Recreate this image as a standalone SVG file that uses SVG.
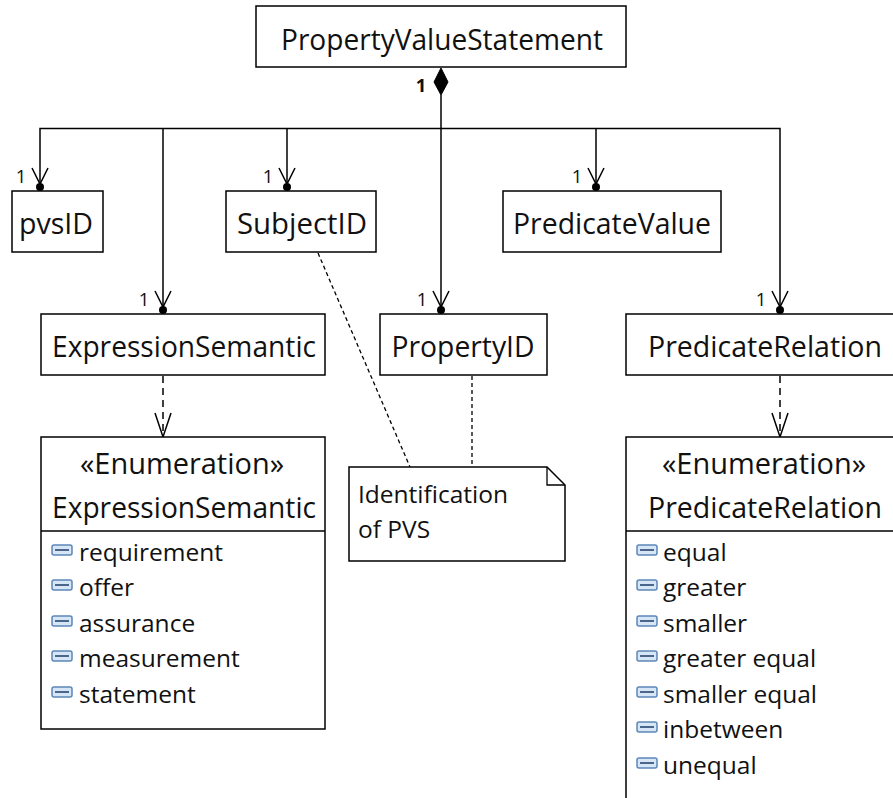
<svg xmlns="http://www.w3.org/2000/svg" width="893" height="798" viewBox="0 0 893 798">
  <style>
    .box { fill: #ffffff; stroke: #000000; stroke-width: 1.5; }
    .name { font-family: "Open Sans", "Noto Sans", sans-serif; font-size: 29px; fill: #111111; text-anchor: middle; }
    .lbl { font-family: "Open Sans", "Noto Sans", sans-serif; font-size: 24.5px; fill: #111111; }
    .mult { font-family: "Open Sans", "Noto Sans", sans-serif; font-size: 18.5px; fill: #111111; text-anchor: middle; }
    .wire { fill: none; stroke: #000000; stroke-width: 1.5; }
    .dep { fill: none; stroke: #000000; stroke-width: 1.5; stroke-dasharray: 7 5; }
    .anchor { fill: none; stroke: #000000; stroke-width: 1.3; stroke-dasharray: 4 3; }
  </style>
  <defs>
    <!-- open arrowhead with a dot at the tip (navigable association end) -->
    <g id="navEnd">
      <path d="M -8 -19 L 0 -3 L 8 -19" fill="none" stroke="#000" stroke-width="1.5"/>
      <circle cx="0" cy="0" r="4" fill="#000"/>
    </g>
    <!-- open arrowhead for dependency -->
    <g id="openHead">
      <path d="M -8 -24 L 0 0 L 8 -24" fill="none" stroke="#000" stroke-width="1.5"/>
    </g>
    <!-- enumeration literal icon -->
    <g id="literal">
      <rect x="0" y="0" width="20" height="10" rx="2" fill="#d6e6f7" stroke="#5d87b8" stroke-width="1.5"/>
      <line x1="3" y1="5" x2="17" y2="5" stroke="#27466e" stroke-width="1.6"/>
    </g>
  </defs>

  <!-- connectors -->
  <g id="connectors">
    <!-- composition from PropertyValueStatement -->
    <path d="M 441 68 L 448 82 L 441 95 L 434 82 Z" fill="#000" stroke="#000" stroke-width="1"/>
    <text x="421" y="92" class="mult" font-weight="bold">1</text>
    <path class="wire" d="M 441 95 L 441 309"/>
    <path class="wire" d="M 40 186 L 40 128.5 L 780 128.5 L 780 309"/>
    <path class="wire" d="M 163 128.5 L 163 309"/>
    <path class="wire" d="M 287 128.5 L 287 186"/>
    <path class="wire" d="M 596 128.5 L 596 186"/>

    <use href="#navEnd" x="40" y="187"/>
    <use href="#navEnd" x="287" y="187"/>
    <use href="#navEnd" x="596" y="187"/>
    <use href="#navEnd" x="163" y="310"/>
    <use href="#navEnd" x="441" y="310"/>
    <use href="#navEnd" x="780" y="310"/>

    <text x="21" y="183" class="mult">1</text>
    <text x="268" y="183" class="mult">1</text>
    <text x="577" y="183" class="mult">1</text>
    <text x="144" y="306" class="mult">1</text>
    <text x="422" y="306" class="mult">1</text>
    <text x="761" y="306" class="mult">1</text>

    <!-- dependencies to enumerations -->
    <path class="dep" d="M 163 376 L 163 436"/>
    <use href="#openHead" x="163" y="437"/>
    <path class="dep" d="M 780 376 L 780 436"/>
    <use href="#openHead" x="780" y="437"/>

    <!-- note anchors -->
    <path class="anchor" d="M 318 253 L 410 467"/>
    <path class="anchor" d="M 472 376 L 472 467"/>
  </g>

  <g id="PropertyValueStatement">
    <rect class="box" x="256" y="6" width="370" height="61"/>
    <text class="name" x="442" y="50" textLength="322" lengthAdjust="spacingAndGlyphs">PropertyValueStatement</text>
  </g>

  <g id="pvsID">
    <rect class="box" x="12" y="191" width="91" height="61"/>
    <text class="name" x="56" y="234" textLength="74" lengthAdjust="spacingAndGlyphs">pvsID</text>
  </g>

  <g id="SubjectID">
    <rect class="box" x="226" y="191" width="150" height="61"/>
    <text class="name" x="302" y="234" textLength="130" lengthAdjust="spacingAndGlyphs">SubjectID</text>
  </g>

  <g id="PredicateValue">
    <rect class="box" x="503" y="191" width="218" height="61"/>
    <text class="name" x="612" y="234" textLength="198" lengthAdjust="spacingAndGlyphs">PredicateValue</text>
  </g>

  <g id="ExpressionSemantic">
    <rect class="box" x="41" y="314" width="284" height="61"/>
    <text class="name" x="184" y="357" textLength="264" lengthAdjust="spacingAndGlyphs">ExpressionSemantic</text>
  </g>

  <g id="PropertyID">
    <rect class="box" x="380" y="314" width="167" height="61"/>
    <text class="name" x="463" y="357" textLength="143" lengthAdjust="spacingAndGlyphs">PropertyID</text>
  </g>

  <g id="PredicateRelation">
    <rect class="box" x="626" y="314" width="280" height="61"/>
    <text class="name" x="765" y="357" textLength="234" lengthAdjust="spacingAndGlyphs">PredicateRelation</text>
  </g>

  <g id="ExpressionSemanticEnum">
    <rect class="box" x="41" y="437" width="284" height="292"/>
    <text class="name" x="182" y="474" textLength="204" lengthAdjust="spacingAndGlyphs">«Enumeration»</text>
    <text class="name" x="184" y="518" textLength="264" lengthAdjust="spacingAndGlyphs">ExpressionSemantic</text>
    <line x1="41" y1="531" x2="325" y2="531" stroke="#000" stroke-width="1.5"/>
    <use href="#literal" x="52" y="545"/>
    <text class="lbl" x="79" y="561">requirement</text>
    <use href="#literal" x="52" y="580"/>
    <text class="lbl" x="79" y="596">offer</text>
    <use href="#literal" x="52" y="616"/>
    <text class="lbl" x="79" y="632">assurance</text>
    <use href="#literal" x="52" y="651"/>
    <text class="lbl" x="79" y="667">measurement</text>
    <use href="#literal" x="52" y="687"/>
    <text class="lbl" x="79" y="703">statement</text>
  </g>

  <g id="PredicateRelationEnum">
    <rect class="box" x="626" y="437" width="280" height="380"/>
    <text class="name" x="764" y="474" textLength="204" lengthAdjust="spacingAndGlyphs">«Enumeration»</text>
    <text class="name" x="765" y="518" textLength="234" lengthAdjust="spacingAndGlyphs">PredicateRelation</text>
    <line x1="626" y1="531" x2="906" y2="531" stroke="#000" stroke-width="1.5"/>
    <use href="#literal" x="637" y="545"/>
    <text class="lbl" x="663" y="561">equal</text>
    <use href="#literal" x="637" y="580"/>
    <text class="lbl" x="663" y="596">greater</text>
    <use href="#literal" x="637" y="616"/>
    <text class="lbl" x="663" y="632">smaller</text>
    <use href="#literal" x="637" y="651"/>
    <text class="lbl" x="663" y="667">greater equal</text>
    <use href="#literal" x="637" y="687"/>
    <text class="lbl" x="663" y="703">smaller equal</text>
    <use href="#literal" x="637" y="722"/>
    <text class="lbl" x="663" y="738">inbetween</text>
    <use href="#literal" x="637" y="758"/>
    <text class="lbl" x="663" y="774">unequal</text>
  </g>

  <g id="NoteIdentification">
    <path class="box" d="M 349 467 L 547 467 L 565 485 L 565 561 L 349 561 Z"/>
    <path d="M 547 467 L 547 485 L 565 485" fill="none" stroke="#000" stroke-width="1.3"/>
    <text class="lbl" x="358" y="503">Identification</text>
    <text class="lbl" x="358" y="538">of PVS</text>
  </g>
</svg>
